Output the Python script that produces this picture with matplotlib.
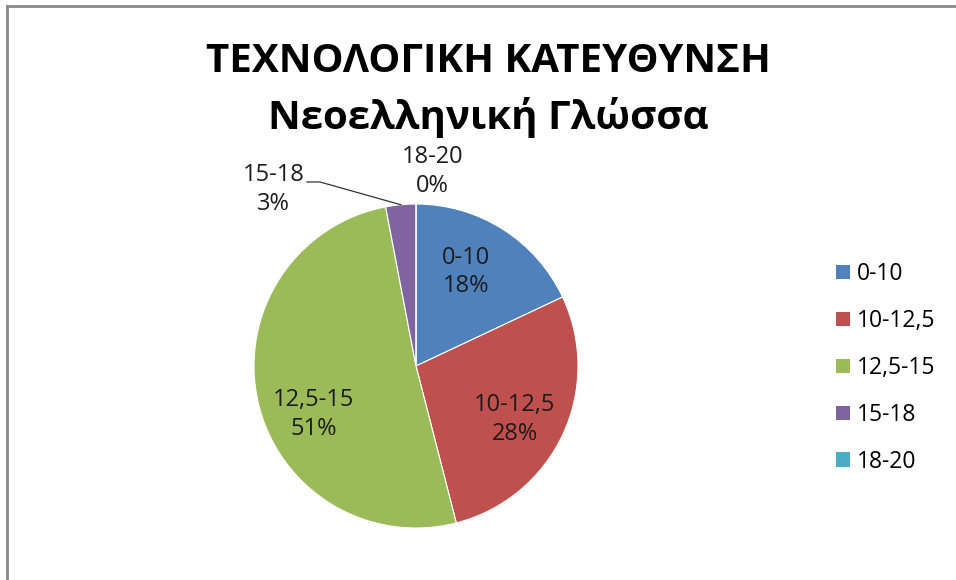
import numpy as np
import matplotlib
matplotlib.use("Agg")
import matplotlib.pyplot as plt
from matplotlib.lines import Line2D

# ==================== data ====================
categories = ['0-10', '10-12,5', '12,5-15', '15-18', '18-20']
shares = [18, 28, 51, 3, 0]
pct_labels = ['18%', '28%', '51%', '3%', '0%']
colors = ['#4F81BD', '#C0504D', '#9BBB59', '#8064A2', '#4BACC6']

title_1 = 'ΤΕΧΝΟΛΟΓΙΚΗ ΚΑΤΕΥΘΥΝΣΗ'
title_2 = 'Νεοελληνική Γλώσσα'

plt.rcParams['font.family'] = ['Open Sans', 'DejaVu Sans']

W, H = 956, 580
fig = plt.figure(figsize=(W / 100, H / 100), dpi=100)

# pie centre / radius in pixels
cx, cy, r = 416, 366, 162
side = 2.5 * r
ax = fig.add_axes([(cx - side / 2) / W, (H - cy - side / 2) / H, side / W, side / H])

wedges, _ = ax.pie(shares, colors=colors, startangle=90, counterclock=False,
                   wedgeprops=dict(linewidth=0.8, edgecolor='white'))

lbl_kw = dict(ha='center', va='center', fontsize=17, color='#1c1c1c', linespacing=1.25)

# label placement (data units of the pie, radius = 1), Excel "best fit" style
label_pos = [(0.31, 0.58), (0.61, -0.33), (-0.63, -0.30), (-0.88, 1.09), (0.10, 1.20)]
for i, (lx, ly) in enumerate(label_pos):
    ax.text(lx, ly, f'{categories[i]}\n{pct_labels[i]}', **lbl_kw)

# leader line for the 15-18 slice
w = wedges[3]
ang = np.deg2rad((w.theta1 + w.theta2) / 2)
ax.add_line(Line2D([-0.673, -0.593, np.cos(ang)], [1.136, 1.136, np.sin(ang)],
                   color='#333333', linewidth=0.9))

# title
fig.text(488 / W, 1 - 62 / H, title_1, ha='center', va='center',
         fontsize=29, fontweight='bold', color='black')
fig.text(488 / W, 1 - 118 / H, title_2, ha='center', va='center',
         fontsize=29, fontweight='bold', color='black')

# legend
handles = [plt.Rectangle((0, 0), 1, 1, facecolor=c, edgecolor='none') for c in colors]
fig.legend(handles, categories, loc='center left', bbox_to_anchor=(836 / W, 1 - 368 / H),
           frameon=False, fontsize=16.5, handlelength=0.6, handleheight=0.6,
           handletextpad=0.3, labelspacing=1.0, borderpad=0, borderaxespad=0)

# outer chart border (top / left visible)
fig.add_artist(Line2D([7 / W, 7 / W], [0, 1 - 6 / H], transform=fig.transFigure,
                      color='#8a8a8a', linewidth=2))
fig.add_artist(Line2D([7 / W, 1], [1 - 6 / H, 1 - 6 / H], transform=fig.transFigure,
                      color='#8a8a8a', linewidth=2))

fig.savefig('out.png', dpi=100)
